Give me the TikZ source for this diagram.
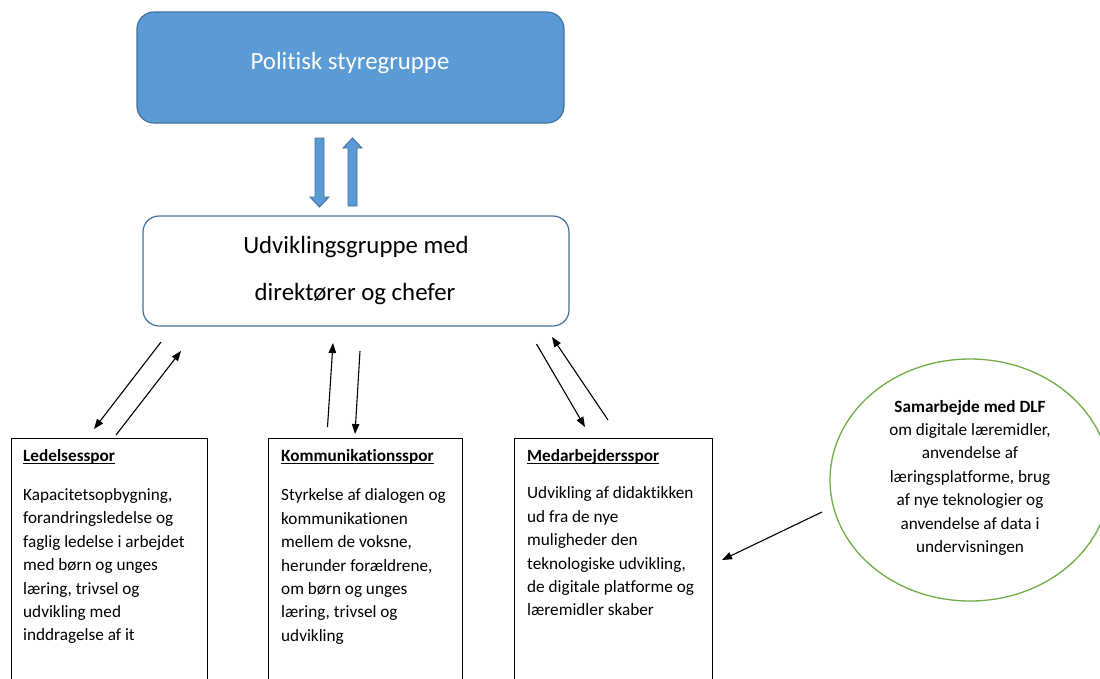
\documentclass[tikz,border=0pt]{standalone}
\usepackage{fontspec}
\setmainfont{Carlito}[Ligatures={NoCommon,NoRare}]
\usetikzlibrary{arrows.meta,shapes.geometric}
\definecolor{blueF}{HTML}{5B9BD5}
\definecolor{blueD}{HTML}{41719C}
\definecolor{greenC}{HTML}{70AD47}
\newcommand\ulx[1]{\leavevmode\setbox0\hbox{#1}\rlap{\rule[-2.6pt]{\wd0}{1.3pt}}\box0}
\begin{document}
\begin{tikzpicture}[x=1pt,y=-1pt,
  bodyfont/.style={font=\fontsize{17.2pt}{23.4pt}\selectfont},
  bigfont/.style={font=\fontsize{24.8pt}{30pt}\selectfont},
  topbox/.style={draw=blueD,fill=blueF,line width=1.2pt,rounded corners=17pt,minimum width=427,minimum height=111,inner sep=0},
  devbox/.style={draw=blueD,fill=white,line width=1.2pt,rounded corners=16pt,minimum width=426,minimum height=110,inner sep=0},
  spbox/.style={draw=black,line width=1pt,minimum height=280,inner sep=0,anchor=north west},
  txt/.style={anchor=base west,inner sep=0,bodyfont},
  blockarrow/.style={draw=blueD,fill=blueF,line width=0.9pt},
  thinarrow/.style={line width=1.1pt,-{Triangle[length=10pt,width=7.5pt]}}]
\clip (0,0) rectangle (1100,678);
\useasboundingbox (0,0) rectangle (1100,678);

% top box
\node[topbox] (pol) at (350.5,67.5) {};
\node[bigfont,text=white,anchor=base,inner sep=0] (poltxt) at (350,69.5) {Politisk styregruppe};

% block arrows
\draw[blockarrow] (315,138) -- (324,138) -- (324,197) -- (329,197) -- (319.5,207) -- (310,197) -- (315,197) -- cycle;
\draw[blockarrow] (348,206) -- (357,206) -- (357,148) -- (362,148) -- (352.5,138) -- (343,148) -- (348,148) -- cycle;

% development group
\node[devbox] (dev) at (356,271) {};
\node[bigfont,anchor=base,inner sep=0] (devtxt1) at (356,253) {Udviklingsgruppe med};
\node[bigfont,anchor=base,inner sep=0] (devtxt2) at (355,300) {direktører og chefer};

% three track boxes
\node[spbox,minimum width=196] (led) at (11,438) {};
\node[spbox,minimum width=194] (kom) at (268,438) {};
\node[spbox,minimum width=198] (med) at (514,438) {};

\node[txt] (ledtxt) at (23,461.5) {\parbox[t]{184pt}{\raggedright\ulx{\textbf{Ledelsesspor}}\\[15.5pt]
Kapacitetsopbygning,\\ forandringsledelse og\\ faglig ledelse i arbejdet\\ med børn og unges\\ læring, trivsel og\\ udvikling med\\ inddragelse af it}};

\node[txt] (komtxt) at (281,461.5) {\parbox[t]{180pt}{\raggedright\ulx{\textbf{Kommunikationsspor}}\\[16pt]
Styrkelse af dialogen og\\ kommunikationen\\ mellem de voksne,\\ herunder forældrene,\\ om børn og unges\\ læring, trivsel og\\ udvikling}};

\node[txt] (medtxt) at (527,461.5) {\parbox[t]{184pt}{\raggedright\ulx{\textbf{Medarbejdersspor}}\\[14pt]
Udvikling af didaktikken\\ ud fra de nye\\ muligheder den\\ teknologiske udvikling,\\ de digitale platforme og\\ læremidler skaber}};

% DLF ellipse
\node[ellipse,draw=greenC,line width=1.3pt,minimum width=280,minimum height=242,inner sep=0] (dlf) at (970,480) {};
\node[anchor=base,inner sep=0,bodyfont] (dlftxt) at (970,412) {\parbox[t]{210pt}{\centering\textbf{Samarbejde med DLF}\\ om digitale læremidler,\\ anvendelse af\\ læringsplatforme, brug\\ af nye teknologier og\\ anvendelse af data i\\ undervisningen}};

% thin arrow end points
\coordinate (a1s) at (161,342); \coordinate (a1e) at (94,429);
\coordinate (a2s) at (116,435); \coordinate (a2e) at (181,351);
\coordinate (a3s) at (327.5,427); \coordinate (a3e) at (333,343);
\coordinate (a4s) at (360,351); \coordinate (a4e) at (355,434);
\coordinate (a5s) at (536.5,344); \coordinate (a5e) at (585,427);
\coordinate (a6s) at (608,420); \coordinate (a6e) at (552,337);
\coordinate (a7s) at (822,512); \coordinate (a7e) at (722,560);

\draw[thinarrow] (a1s) -- (a1e);
\draw[thinarrow] (a2s) -- (a2e);
\draw[thinarrow] (a3s) -- (a3e);
\draw[thinarrow] (a4s) -- (a4e);
\draw[thinarrow] (a5s) -- (a5e);
\draw[thinarrow] (a6s) -- (a6e);
\draw[thinarrow] (a7s) -- (a7e);
\end{tikzpicture}
\end{document}
